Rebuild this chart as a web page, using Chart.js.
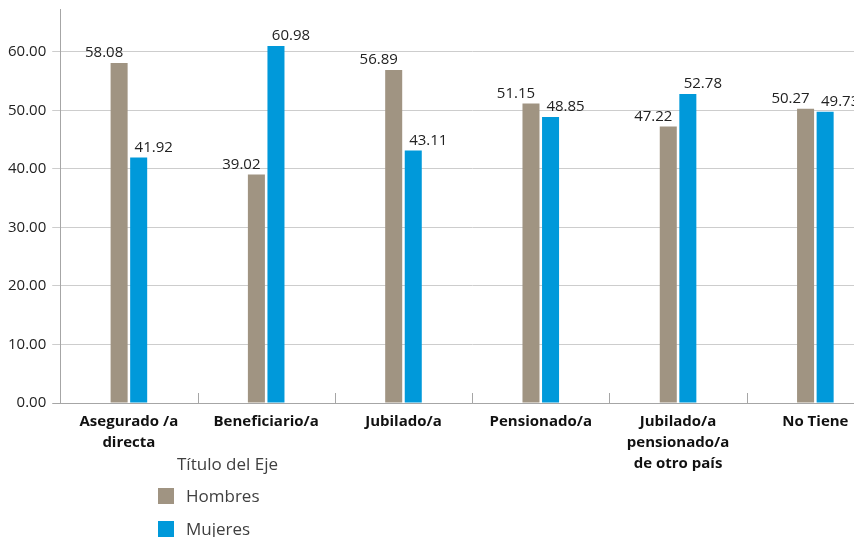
<!DOCTYPE html>
<html lang="es">
<head>
<meta charset="utf-8">
<title>Hombres y Mujeres por tipo de seguro</title>
<script src="https://cdn.jsdelivr.net/npm/chart.js@4.4.1/dist/chart.umd.min.js"></script>
<style>
    html, body { margin: 0; padding: 0; background: #fff; width: 854px; height: 537px; overflow: hidden; }
    #wrap { position: absolute; left: 0; top: 0; width: 890px; height: 476px; }
    #ejeTitulo { position: absolute; left: 177px; top: 452px; font: 17px "Open Sans", sans-serif; line-height: 23px; color: #404040; }
    #leyenda { position: absolute; left: 158px; top: 479px; margin: 0; padding: 0; list-style: none; font: 17px "Open Sans", sans-serif; color: #404040; }
    #leyenda li { display: flex; align-items: center; height: 33px; }
    #leyenda .caja { display: inline-block; width: 16px; height: 16px; margin-right: 12px; }
</style>
</head>
<body>
<div id="wrap"><canvas id="grafico"></canvas></div>
<div id="ejeTitulo">Título del Eje</div>
<ul id="leyenda"></ul>
<script>
// Datos del gráfico
const categorias = [['Asegurado /a', 'directa'], 'Beneficiario/a', 'Jubilado/a', 'Pensionado/a', ['Jubilado/a', 'pensionado/a', 'de otro país'], 'No Tiene'];
const hombres = [58.08, 39.02, 56.89, 51.15, 47.22, 50.27];
const mujeres = [41.92, 60.98, 43.11, 48.85, 52.78, 49.73];
const ticksY = [0, 10, 20, 30, 40, 50, 60];

const FUENTE = '"Open Sans", sans-serif';

// Etiquetas de valor sobre cada barra
const etiquetasPlugin = {
    id: 'etiquetas',
    afterDatasetsDraw(chart) {
        const ctx = chart.ctx;
        ctx.save();
        ctx.font = '15px ' + FUENTE;
        ctx.fillStyle = '#222';
        ctx.textAlign = 'center';
        ctx.textBaseline = 'alphabetic';
        chart.data.datasets.forEach((ds, i) => {
            const desplazamiento = i === 0 ? -15 : 15;
            chart.getDatasetMeta(i).data.forEach((barra, j) => {
                ctx.fillText(ds.data[j].toFixed(2), barra.x + desplazamiento, barra.y - 6);
            });
        });
        ctx.restore();
    }
};

// Marcas pequeñas entre categorías, hacia arriba desde el eje
const marcasPlugin = {
    id: 'marcas',
    afterDraw(chart) {
        const x = chart.scales.x, y = chart.scales.y, ctx = chart.ctx;
        ctx.save();
        ctx.strokeStyle = '#a6a6a6';
        ctx.lineWidth = 1;
        for (let i = 1; i < chart.data.labels.length; i++) {
            const px = Math.round((x.getPixelForTick(i - 1) + x.getPixelForTick(i)) / 2) + 0.5;
            ctx.beginPath();
            ctx.moveTo(px, y.bottom);
            ctx.lineTo(px, y.bottom - 10);
            ctx.stroke();
        }
        ctx.restore();
    }
};

// Leyenda vertical en HTML
const leyendaPlugin = {
    id: 'leyendaHtml',
    afterUpdate(chart) {
        const ul = document.getElementById('leyenda');
        ul.innerHTML = '';
        chart.data.datasets.forEach(ds => {
            const li = document.createElement('li');
            const caja = document.createElement('span');
            caja.className = 'caja';
            caja.style.background = ds.backgroundColor;
            li.appendChild(caja);
            li.appendChild(document.createTextNode(ds.label));
            ul.appendChild(li);
        });
    }
};

document.addEventListener('DOMContentLoaded', function() {
    const ctx = document.getElementById('grafico').getContext('2d');

    new Chart(ctx, {
        type: 'bar',
        data: {
            labels: categorias,
            datasets: [{
                label: 'Hombres',
                data: hombres,
                backgroundColor: '#a09482',
                barPercentage: 0.87,
                categoryPercentage: 0.285
            }, {
                label: 'Mujeres',
                data: mujeres,
                backgroundColor: '#0099da',
                barPercentage: 0.87,
                categoryPercentage: 0.285
            }]
        },
        options: {
            responsive: true,
            maintainAspectRatio: false,
            animation: false,
            layout: { padding: { top: 9, left: 2, right: 6, bottom: 2 } },
            plugins: {
                legend: { display: false },
                tooltip: { enabled: false }
            },
            scales: {
                y: {
                    min: 0,
                    max: 67.3,
                    afterBuildTicks: scale => { scale.ticks = ticksY.map(v => ({ value: v })); },
                    afterFit: scale => { scale.paddingTop = 0; },
                    grid: {
                        color: c => c.tick && c.tick.value === 0 ? '#a6a6a6' : '#cdcdcd',
                        tickLength: 8,
                        lineWidth: 1
                    },
                    border: { color: '#a6a6a6' },
                    ticks: {
                        padding: 6,
                        color: '#222',
                        font: { family: FUENTE, size: 15 },
                        callback: v => Number(v).toFixed(2)
                    }
                },
                x: {
                    grid: { display: false },
                    border: { color: '#a6a6a6' },
                    ticks: {
                        padding: 0,
                        maxRotation: 0,
                        autoSkip: false,
                        color: '#111',
                        font: { family: FUENTE, size: 15, weight: 'bold', lineHeight: 1.4 }
                    }
                }
            }
        },
        plugins: [etiquetasPlugin, marcasPlugin, leyendaPlugin]
    });
});
</script>
</body>
</html>
